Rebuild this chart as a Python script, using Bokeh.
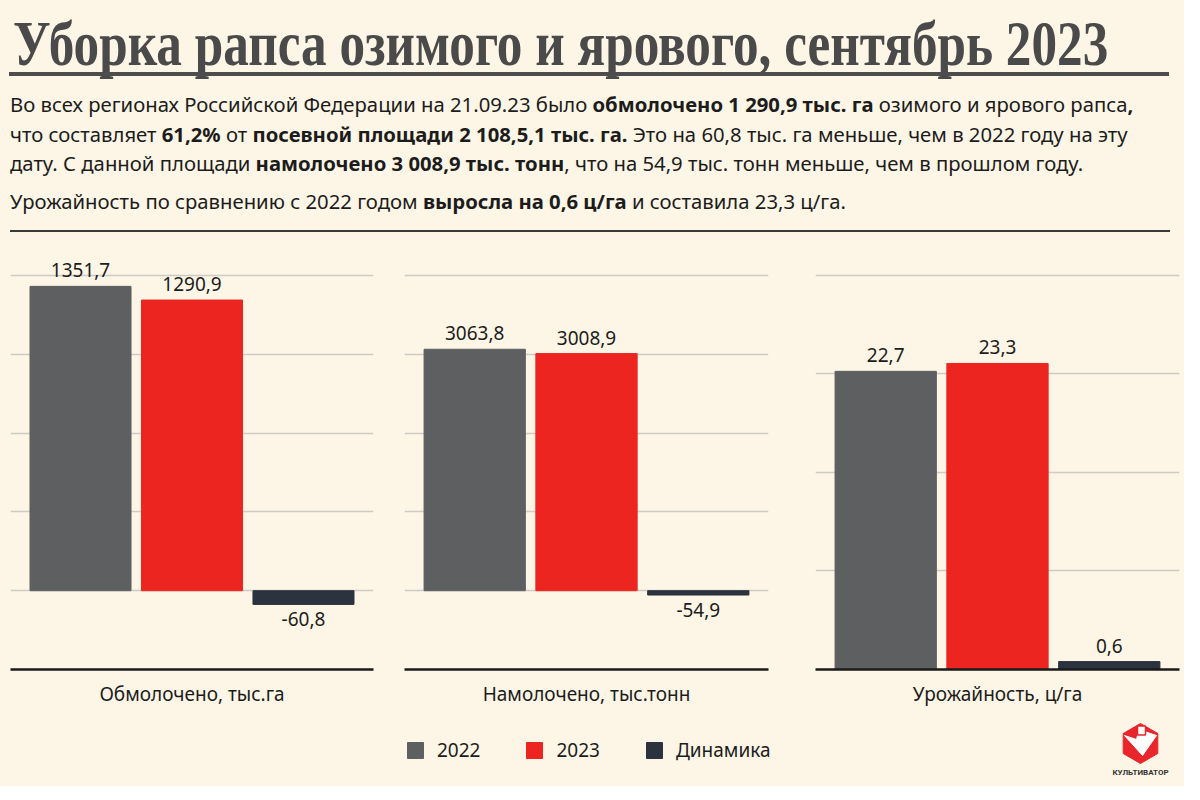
import math
from bokeh.plotting import figure
from bokeh.models import (Range1d, FactorRange, FixedTicker, ColumnDataSource, Div,
                          Legend, LegendItem)
from bokeh.layouts import column, row
from bokeh.embed import file_html
from bokeh.resources import INLINE
from bokeh.core.properties import value

BG = "#fdf6e6"

# ---- data ----
series = ["2022", "2023", "Динамика"]
series_colors = ["#5e5f60", "#ec2520", "#2b333f"]

panel_titles = ["Обмолочено, тыс.га", "Намолочено, тыс.тонн", "Урожайность, ц/га"]
threshed = [1351.7, 1290.9, -60.8]
harvested = [3063.8, 3008.9, -54.9]
crop_yield = [22.7, 23.3, 0.6]

title_text = "Уборка рапса озимого и ярового, сентябрь 2023"
para_lines = [
    "Во всех регионах Российской Федерации на 21.09.23 было <b>обмолочено 1 290,9 тыс. га</b> озимого и ярового рапса<b>,</b>",
    "что составляет <b>61,2%</b> от <b>посевной площади 2 108,5,1 тыс. га.</b> Это на 60,8 тыс. га меньше, чем в 2022 году на эту",
    "дату. С данной площади <b>намолочено 3 008,9 тыс. тонн</b>, что на 54,9 тыс. тонн меньше, чем в прошлом году.",
]
para_last = "Урожайность по сравнению с 2022 годом <b>выросла на 0,6 ц/га</b> и составила 23,3 ц/га."

# ---- axis configuration ----
y_ranges = [(-350, 1511), (-1000, 4317), (0, 31.9)]
grid_ticks = [[0, 350, 700, 1050, 1400], [0, 1000, 2000, 3000, 4000], [7.5, 15, 22.5, 30]]
frame_widths = [363, 364, 364]
borders = [(10, 16), (15, 28), (19, 5)]

FONT = "Noto Sans"
TXT = "#1c1c1c"
BG_STYLE = {"background-color": BG}

# ---- header ----
header_html = f"""
<div style="position:relative;width:1184px;height:240px;background:{BG};overflow:hidden;">
  <div style="position:absolute;left:13px;top:12px;font-family:'Liberation Serif';font-weight:bold;font-size:64px;line-height:64px;color:#4a4a4a;white-space:nowrap;transform:scaleX(0.80);transform-origin:0 0;">{title_text}</div>
  <div style="position:absolute;left:9px;top:72px;width:1160px;height:4px;background:#4d4d4d;"></div>
  <div style="position:absolute;left:10px;top:90px;font-family:'{FONT}';font-size:20.3px;line-height:29.5px;color:{TXT};white-space:nowrap;">{'<br>'.join(para_lines)}</div>
  <div style="position:absolute;left:10px;top:187px;font-family:'{FONT}';font-size:20.3px;line-height:29.5px;color:{TXT};white-space:nowrap;">{para_last}</div>
  <div style="position:absolute;left:10px;top:230px;width:1160px;height:2px;background:#3a3a3a;"></div>
</div>
"""
header = Div(text=header_html, width=1184, height=240, margin=0, styles=BG_STYLE)


def fmt(v):
    return f"{v:.1f}".replace(".", ",")


def make_panel(title, vals, yr, ticks, fw, bl, br):
    p = figure(x_range=FactorRange(factors=series, range_padding=0.128,
                                   range_padding_units="absolute"),
               y_range=Range1d(*yr), frame_width=fw, frame_height=419,
               min_border=0, min_border_left=bl, min_border_right=br,
               min_border_top=10, min_border_bottom=38,
               toolbar_location=None, output_backend="svg", y_axis_location=None,
               background_fill_color=BG, border_fill_color=BG, outline_line_color=None)
    src = ColumnDataSource(dict(x=series, top=vals, color=series_colors))
    p.vbar(x="x", top="top", bottom=0, width=0.906, fill_color="color",
           line_color="color", source=src)

    pos = [(s, v, fmt(v)) for s, v in zip(series, vals) if v >= 0]
    neg = [(s, v, fmt(v)) for s, v in zip(series, vals) if v < 0]
    if pos:
        p.text(x=[a[0] for a in pos], y=[a[1] for a in pos], text=[a[2] for a in pos],
               text_align="center", text_baseline="bottom", y_offset=-9,
               text_font=value(FONT), text_font_size="19px", text_color=TXT)
    if neg:
        p.text(x=[a[0] for a in neg], y=[a[1] for a in neg], text=[a[2] for a in neg],
               text_align="center", text_baseline="top", y_offset=8,
               text_font=value(FONT), text_font_size="19px", text_color=TXT)

    p.xgrid.visible = False
    p.ygrid.ticker = FixedTicker(ticks=ticks)
    p.ygrid.grid_line_color = "#cfcbc4"
    p.ygrid.grid_line_width = 1.5

    ax = p.xaxis[0]
    ax.axis_label = title
    ax.axis_label_text_font = FONT
    ax.axis_label_text_font_style = "normal"
    ax.axis_label_text_font_size = "19px"
    ax.axis_label_text_color = TXT
    ax.axis_label_standoff = 11
    ax.axis_line_color = "#1a1a1a"
    ax.axis_line_width = 2.5
    ax.major_tick_line_color = None
    ax.minor_tick_line_color = None
    ax.major_label_text_color = None
    ax.major_label_text_alpha = 0
    ax.major_label_text_font_size = "1px"
    ax.major_label_standoff = 0
    ax.major_tick_out = 0
    return p


panels = [make_panel(t, v, yr, tk, fw, b[0], b[1])
          for t, v, yr, tk, fw, b in zip(panel_titles, [threshed, harvested, crop_yield],
                                          y_ranges, grid_ticks, frame_widths, borders)]

# ---- footer: legend + logo ----
FH = 77
fb = figure(width=1184, height=FH, x_range=Range1d(0, 1184), y_range=Range1d(FH, 0),
            min_border=0, toolbar_location=None, output_backend="svg",
            x_axis_location=None, y_axis_location=None,
            background_fill_color=BG, border_fill_color=BG, outline_line_color=None)
fb.grid.visible = False

nan = float("nan")
items = []
for s, c in zip(series, series_colors):
    # legend swatches only (no visible data)
    r = fb.vbar(x=[nan], top=[nan], bottom=[nan], width=1, fill_color=c, line_color=c)
    items.append(LegendItem(label=s, renderers=[r]))
legend = Legend(items=items, orientation="horizontal", location=(405, 23),
                glyph_width=20, glyph_height=20, label_standoff=12, spacing=44,
                padding=0, margin=0, border_line_color=None, background_fill_alpha=0,
                label_text_font=FONT, label_text_font_size="19px", label_text_color=TXT)
fb.add_layout(legend)

# logo
lx, ly, lr = 1140, 34, 20
fb.scatter(x=[lx], y=[ly], marker="hex", size=2 * lr, angle=math.pi / 2,
           fill_color="#e8262b", line_color="#e8262b")
fb.patch(x=[lx - 16, lx - 4, lx - 2, lx + 4, lx + 16, lx + 2],
         y=[ly - 8, ly - 4, ly - 12, ly - 12, ly - 8, ly + 12],
         fill_color="white", line_color="white")
fb.rect(x=[lx + 1], y=[ly - 13], width=8, height=9, fill_color="white", line_color="#e8262b",
        line_width=1.5)
fb.text(x=[lx], y=[63], text=["КУЛЬТИВАТОР"], text_align="center", text_baseline="middle",
        text_font=value("Roboto"), text_font_style="bold", text_font_size="8px",
        text_color="#333333")

layout = column(header, row(*panels, spacing=0, styles=BG_STYLE), fb, spacing=0,
                styles=BG_STYLE)
open("out.html", "w").write(file_html(layout, INLINE))
